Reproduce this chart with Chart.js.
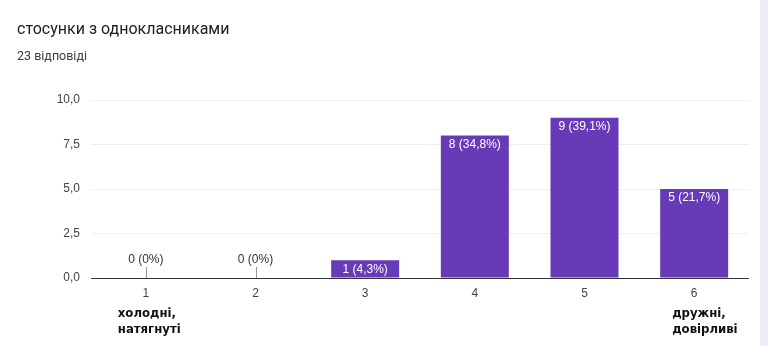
<!DOCTYPE html>
<html>
<head>
<meta charset="utf-8">
<script src="https://cdn.jsdelivr.net/npm/chart.js@4"></script>
<style>
  html,body{margin:0;padding:0;background:#fff;}
  #wrap{position:relative;width:768px;height:346px;overflow:hidden;}
  #title{position:absolute;left:17px;top:19px;font:16px Roboto,"Noto Sans",sans-serif;color:#202124;}
  #sub{position:absolute;left:17px;top:48px;font:12.5px Roboto,"Noto Sans",sans-serif;color:#3c4043;}
  #strip{position:absolute;left:760px;top:0;width:8px;height:346px;background:#efeef6;}
  canvas{position:absolute;left:0;top:0;}
</style>
</head>
<body>
<div id="wrap">
  <canvas id="c" width="768" height="346"></canvas>
  <div id="title">стосунки з однокласниками</div>
  <div id="sub">23 відповіді</div>
  <div id="strip"></div>
</div>
<script>
const categories = ["1","2","3","4","5","6"];
const counts = [0, 0, 1, 8, 9, 5];
const percents = ["0%", "0%", "4,3%", "34,8%", "39,1%", "21,7%"];
const yTicks = [0, 2.5, 5, 7.5, 10];
const endLabelLeft = ["холодні,", "натягнуті"];
const endLabelRight = ["дружні,", "довірливі"];

const fmt = v => v.toFixed(1).replace('.', ',');

const labelPlugin = {
  id: 'barLabels',
  afterDatasetsDraw(chart) {
    const ctx = chart.ctx;
    const meta = chart.getDatasetMeta(0);
    const y = chart.scales.y;
    const x = chart.scales.x;
    ctx.save();
    ctx.font = '12px Arial, "Liberation Sans", sans-serif';
    ctx.textAlign = 'center';
    ctx.textBaseline = 'middle';
    meta.data.forEach((bar, i) => {
      const txt = counts[i] + ' (' + percents[i] + ')';
      const y0 = y.getPixelForValue(0);
      if (counts[i] === 0) {
        ctx.strokeStyle = '#999';
        ctx.lineWidth = 1;
        ctx.beginPath();
        ctx.moveTo(Math.round(bar.x) + 0.5, y0 - 11);
        ctx.lineTo(Math.round(bar.x) + 0.5, y0);
        ctx.stroke();
        ctx.fillStyle = '#333';
        ctx.fillText(txt, bar.x, y0 - 18);
      } else {
        ctx.fillStyle = '#ffffff';
        ctx.fillText(txt, bar.x, bar.y + 9);
      }
    });
    // axis line
    const y0 = Math.round(y.getPixelForValue(0)) + 0.5;
    ctx.strokeStyle = '#333';
    ctx.beginPath();
    ctx.moveTo(chart.chartArea.left, y0);
    ctx.lineTo(chart.chartArea.right, y0);
    ctx.stroke();
    // end labels
    ctx.fillStyle = '#111';
    ctx.font = 'bold 13px "DejaVu Sans Condensed", "DejaVu Sans", sans-serif';
    ctx.textAlign = 'left';
    const lx = x.getPixelForValue(0) - 28;
    const rx = x.getPixelForValue(5) - 22;
    endLabelLeft.forEach((t, k) => ctx.fillText(t, lx, 314 + k * 16));
    endLabelRight.forEach((t, k) => ctx.fillText(t, rx, 314 + k * 16));
    ctx.restore();
  }
};

new Chart(document.getElementById('c'), {
  type: 'bar',
  data: {
    labels: categories,
    datasets: [{
      data: counts,
      backgroundColor: '#673ab7',
      categoryPercentage: 1,
      barPercentage: 0.62
    }]
  },
  options: {
    responsive: false,
    animation: false,
    layout: { padding: { top: 100, right: 19, left: 0, bottom: 0 } },
    plugins: { legend: { display: false }, tooltip: { enabled: false } },
    scales: {
      x: {
        grid: { display: false, drawTicks: false },
        border: { display: false },
        ticks: { color: '#444', font: { size: 12, family: 'Arial, "Liberation Sans", sans-serif' }, padding: 8 },
        afterFit(s) { s.height = 68; }
      },
      y: {
        min: 0, max: 10,
        afterBuildTicks(s) { s.ticks = yTicks.map(v => ({ value: v })); },
        grid: { color: '#efefef', drawTicks: false },
        border: { display: false },
        ticks: { color: '#444', font: { size: 12, family: 'Arial, "Liberation Sans", sans-serif' }, padding: 11, callback: v => fmt(v) },
        afterFit(s) { s.width = 91; }
      }
    }
  },
  plugins: [labelPlugin]
});
</script>
</body>
</html>
